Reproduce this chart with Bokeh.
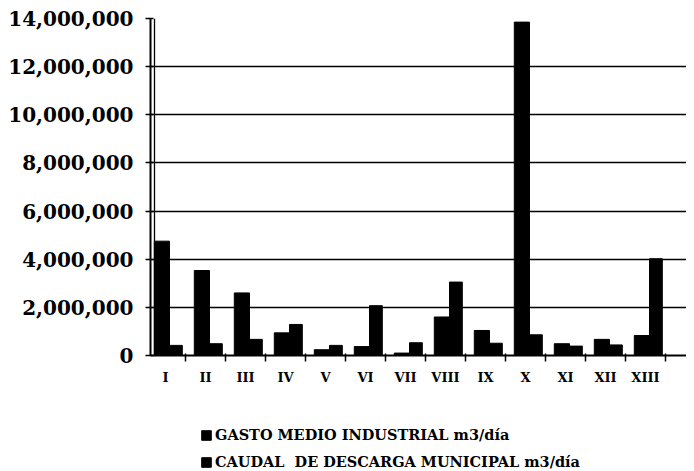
from bokeh.plotting import figure
from bokeh.models import (ColumnDataSource, FixedTicker, NumeralTickFormatter,
                          Range1d, Legend, LegendItem, Span)
from bokeh.layouts import column
from bokeh.embed import file_html
from bokeh.resources import INLINE

regions = ["I", "II", "III", "IV", "V", "VI", "VII", "VIII", "IX", "X", "XI", "XII", "XIII"]
gasto_industrial = [4750000, 3530000, 2600000, 940000, 240000, 370000, 100000,
                    1600000, 1040000, 13850000, 490000, 670000, 830000]
caudal_municipal = [420000, 490000, 670000, 1290000, 420000, 2070000, 530000,
                    3050000, 510000, 860000, 390000, 440000, 4020000]
y_ticks = [0, 2000000, 4000000, 6000000, 8000000, 10000000, 12000000, 14000000]
series_labels = ["GASTO MEDIO INDUSTRIAL m3/día", "CAUDAL  DE DESCARGA MUNICIPAL m3/día"]

idx = list(range(len(regions)))
src = ColumnDataSource(dict(
    xg=[i + 0.41 for i in idx],
    xc=[i + 0.76 for i in idx],
    g=gasto_industrial,
    c=caudal_municipal,
))

FONT = "DejaVu Serif"

p = figure(output_backend="svg", toolbar_location=None,
           frame_width=536, frame_height=337,
           min_border_left=150, min_border_top=18, min_border_right=0,
           min_border_bottom=30,
           x_range=Range1d(0.125, 13.525), y_range=Range1d(0, 14000000))

p.vbar(x="xg", top="g", width=0.38, bottom=0, source=src,
       fill_color="black", line_color="black")
p.vbar(x="xc", top="c", width=0.32, bottom=0, source=src,
       fill_color="black", line_color="black")

p.xgrid.visible = False
p.ygrid.grid_line_color = "black"
p.ygrid.grid_line_width = 1.6
p.ygrid.ticker = FixedTicker(ticks=y_ticks)
p.outline_line_color = None
p.background_fill_color = "white"
p.border_fill_color = "white"
p.add_layout(Span(location=0.225, dimension="height", line_color="black", line_width=1.3))

ya = p.yaxis[0]
ya.ticker = FixedTicker(ticks=y_ticks, minor_ticks=[])
ya.formatter = NumeralTickFormatter(format="0,0")
ya.major_label_text_font = FONT
ya.major_label_text_font_style = "bold"
ya.major_label_text_font_size = "20px"
ya.major_label_text_color = "black"
ya.axis_line_color = "black"
ya.axis_line_width = 2
ya.major_tick_line_color = "black"
ya.major_tick_line_width = 1.5
ya.major_tick_in = 3
ya.major_tick_out = 5
ya.major_label_standoff = 12

xa = p.xaxis[0]
centers = [i + 0.5 for i in idx]
xa.ticker = FixedTicker(ticks=centers, minor_ticks=[i for i in range(len(regions) + 1)])
xa.major_label_overrides = {c: r for c, r in zip(centers, regions)}
xa.major_label_text_font = FONT
xa.major_label_text_font_style = "bold"
xa.major_label_text_font_size = "13px"
xa.major_label_text_color = "black"
xa.axis_line_color = "black"
xa.axis_line_width = 2
xa.major_tick_in = 0
xa.major_tick_out = 0
xa.minor_tick_line_color = "black"
xa.minor_tick_line_width = 1.5
xa.minor_tick_in = 2
xa.minor_tick_out = 6
xa.major_label_standoff = 8

# legend figure (aligned with the chart frame by the column layout)
lf = figure(output_backend="svg", toolbar_location=None,
            width=686, height=86, min_border=0,
            x_range=Range1d(0, 1), y_range=Range1d(0, 1))
lf.axis.visible = False
lf.grid.visible = False
lf.outline_line_color = None
dummy = ColumnDataSource(dict(x=[-5], top=[0]))
r1 = lf.vbar(x="x", top="top", width=0.1, source=dummy, fill_color="black", line_color="black")
r2 = lf.vbar(x="x", top="top", width=0.1, source=dummy, fill_color="black", line_color="black")

legend = Legend(items=[
    LegendItem(label=series_labels[0], renderers=[r1]),
    LegendItem(label=series_labels[1], renderers=[r2]),
], orientation="vertical", location=(50, 3))
legend.label_text_font = FONT
legend.label_text_font_style = "bold"
legend.label_text_font_size = "14.5px"
legend.label_text_color = "black"
legend.glyph_width = 12
legend.glyph_height = 12
legend.label_height = 14
legend.label_standoff = 3
legend.spacing = 10
legend.padding = 0
legend.margin = 0
legend.border_line_color = None
legend.background_fill_alpha = 0
lf.add_layout(legend)

open("out.html", "w").write(file_html(column(p, lf), INLINE))
